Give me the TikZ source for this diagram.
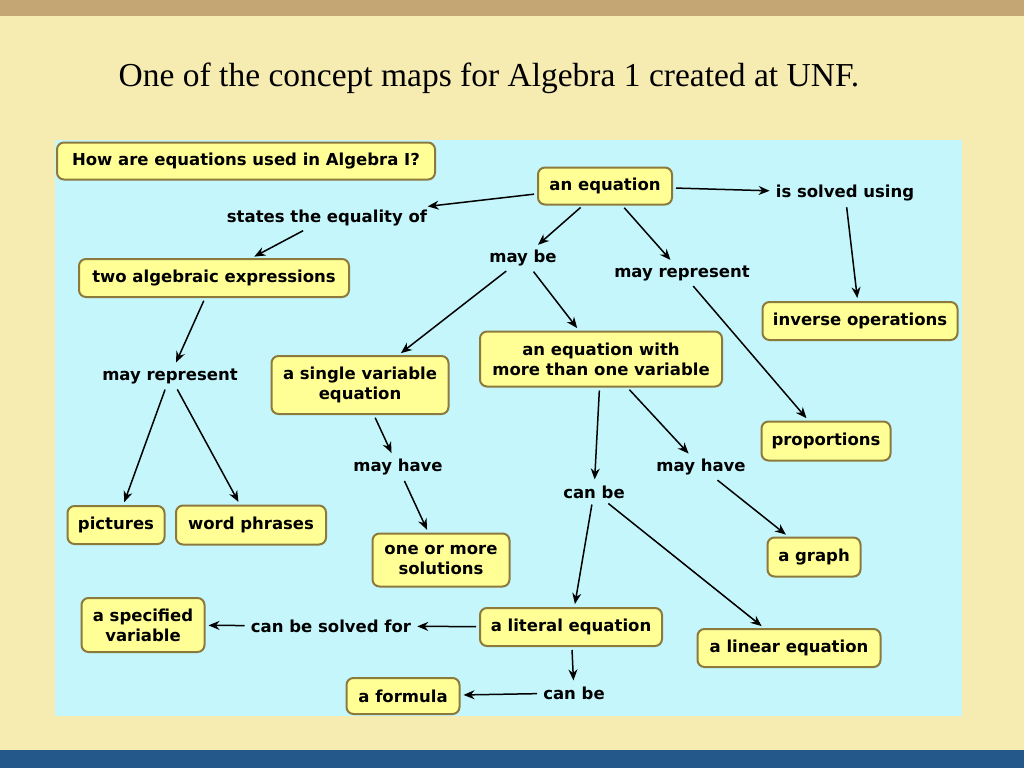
\documentclass[tikz,border=0pt]{standalone}
\usepackage{fontspec}
\setmainfont{Liberation Serif}
\newfontfamily\dv{DejaVu Sans}
\usetikzlibrary{arrows.meta}
\definecolor{bgbeige}{HTML}{F6ECB2}
\definecolor{toptan}{HTML}{C4A574}
\definecolor{botblue}{HTML}{24578A}
\definecolor{panel}{HTML}{C4F6FB}
\definecolor{boxfill}{HTML}{FFFF96}
\definecolor{boxline}{HTML}{8C7A3C}
\tikzset{
 cbox/.style={draw=boxline,fill=boxfill,line width=2pt,rounded corners=7pt,font=\dv\bfseries\fontsize{16.5}{20}\selectfont,align=center,inner sep=2pt},
 lbl/.style={font=\dv\bfseries\fontsize{16.5}{20}\selectfont,inner sep=3pt},
 arr/.style={-{Stealth[length=11pt,width=9pt]},line width=1.5pt,shorten >=3pt,shorten <=3pt}
}
\begin{document}
\begin{tikzpicture}[x=1pt,y=-1pt]
\useasboundingbox (0,0) rectangle (1024,768);
\fill[bgbeige] (0,0) rectangle (1024,768);
\fill[toptan] (0,0) rectangle (1024,16);
\fill[botblue] (0,750) rectangle (1024,768);
\fill[panel] (55,140) rectangle (962,716);
\node[font=\fontsize{33.5}{36}\selectfont] (title) at (489,78) {One of the concept maps for Algebra 1 created at UNF.};
\node[cbox,minimum width=378,minimum height=37] (q) at (246,161) {How are equations used in Algebra I?};
\node[cbox,minimum width=134,minimum height=37] (eq) at (605,186) {an equation};
\node[lbl] (solved) at (845,193) {is solved using};
\node[lbl] (states) at (327,218) {states the equality of};
\node[lbl] (maybe) at (523,258) {may be};
\node[lbl] (mayrep1) at (682,273) {may represent};
\node[cbox,minimum width=270,minimum height=38] (two) at (214,278) {two algebraic expressions};
\node[cbox,minimum width=195,minimum height=38] (inv) at (860,321) {inverse operations};
\node[lbl] (mayrep2) at (170,376) {may represent};
\node[cbox,minimum width=177,minimum height=58] (single) at (360,385) {a single variable\\equation};
\node[cbox,minimum width=242,minimum height=55] (more) at (601,359) {an equation with\\more than one variable};
\node[cbox,minimum width=129,minimum height=39] (prop) at (826,441) {proportions};
\node[lbl] (mayhave1) at (398,467) {may have};
\node[lbl] (mayhave2) at (701,467) {may have};
\node[lbl] (canbe1) at (594,492) {can be};
\node[cbox,minimum width=97,minimum height=38] (pictures) at (116,525) {pictures};
\node[cbox,minimum width=150,minimum height=39] (word) at (251,525) {word phrases};
\node[cbox,minimum width=137,minimum height=53] (one) at (441,560) {one or more\\solutions};
\node[cbox,minimum width=93,minimum height=39] (graph) at (814,557) {a graph};
\node[cbox,minimum width=123,minimum height=54] (spec) at (143,625) {a specified\\variable};
\node[lbl] (csf) at (331,626) {can be solved for};
\node[cbox,minimum width=182,minimum height=38] (literal) at (571,627) {a literal equation};
\node[cbox,minimum width=183,minimum height=38] (linear) at (789,648) {a linear equation};
\node[lbl] (canbe2) at (574,693) {can be};
\node[cbox,minimum width=113,minimum height=36] (formula) at (403,696) {a formula};
\draw[arr] (eq) -- (states);
\draw[arr] (eq) -- (maybe);
\draw[arr] (eq) -- (mayrep1);
\draw[arr] (eq) -- (solved);
\draw[arr] (states) -- (two);
\draw[arr] (solved) -- (inv);
\draw[arr] (two) -- (mayrep2);
\draw[arr] (mayrep2) -- (pictures);
\draw[arr] (mayrep2) -- (word);
\draw[arr] (maybe) -- (single);
\draw[arr] (maybe) -- (more);
\draw[arr] (mayrep1) -- (prop);
\draw[arr] (single) -- (mayhave1);
\draw[arr] (mayhave1) -- (one);
\draw[arr] (more) -- (canbe1);
\draw[arr] (more) -- (mayhave2);
\draw[arr] (mayhave2) -- (graph);
\draw[arr] (canbe1) -- (literal);
\draw[arr] (canbe1) -- (linear);
\draw[arr] (literal) -- (csf);
\draw[arr] (csf) -- (spec);
\draw[arr] (literal) -- (canbe2);
\draw[arr] (canbe2) -- (formula);
\end{tikzpicture}
\end{document}
